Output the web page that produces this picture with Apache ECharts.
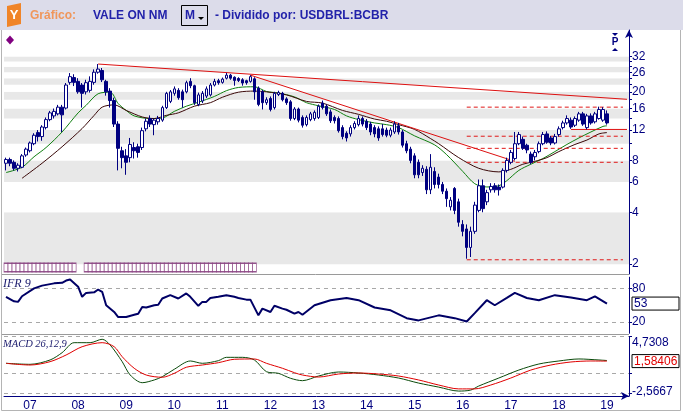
<!DOCTYPE html>
<html><head><meta charset="utf-8">
<script src="https://cdn.jsdelivr.net/npm/echarts@6/dist/echarts.min.js"></script>
<style>html,body{margin:0;padding:0;background:#fff}#c{width:683px;height:413px}</style>
</head><body><div id="c"></div><script>
// ---------------- DATA ----------------
const startYear = 2006, startMonth = 7, monthCount = 156; // monthly candles Jul 2006 .. Jan 2019 (+ empty space)
const opens = [7.7,8.1,7.8,7.2,7.3,8.6,9.1,10.0,11.6,11.0, 12.4,13.8,14.5,14.9,16.3,16.1,22.7,24.2,23.0,21.9, 20.0,20.4,22.7,26.0,26.6,23.0,20.2,17.8,13.0,9.1, 8.5,8.3,9.5,9.6,9.5,12.2,14.0,12.9,13.4,13.7, 16.2,17.6,19.6,20.4,20.0,20.0,23.0,21.7,16.9,17.7, 18.9,19.2,21.9,23.2,22.7,24.0,25.0,24.3,23.9,23.5, 23.2,23.0,23.8,21.0,20.0,17.3,18.3,16.2,19.3,19.6, 18.2,17.5,14.0,15.9,14.2,12.9,13.8,14.0,14.2,17.2, 16.5,15.3,14.2,14.0,12.4,11.5,11.4,12.4,12.9,14.0, 13.5,13.0,12.4,12.2,12.2,12.0,11.2,11.7,12.7,11.7, 10.0,9.3,8.5,7.8,6.8,7.1,5.4,6.9,6.4,5.8, 5.3,4.3,5.5,4.6,3.4,3.2,2.5,3.1,4.1,5.7, 4.6,5.4,5.7,5.6,5.6,7.0,7.8,8.2,10.0,10.6, 9.8,8.7,8.4,9.0,10.0,11.4,10.8,10.1,11.3,12.4, 13.2,13.7,12.8,13.7,14.9,12.4,14.5,13.4,14.0,13.7, 14.9];
const highs = [8.3,8.3,8.0,7.7,8.7,9.5,10.3,11.5,12.0,12.8, 14.2,15.5,16.0,16.8,16.8,22.5,25.7,25.3,24.0,22.5, 23.5,24.6,27.0,29.0,27.5,23.5,21.0,18.5,13.5,9.6, 9.3,10.8,10.2,10.0,12.4,14.0,14.6,14.0,14.5,16.6, 20.0,20.5,21.5,21.0,20.6,23.2,24.0,22.0,19.8,20.2, 21.5,22.5,23.8,23.8,24.2,25.8,25.4,24.6,24.3,24.0, 23.5,25.0,24.3,21.5,20.5,18.6,18.8,20.0,20.3,20.0, 18.6,17.9,16.3,16.2,14.6,14.6,15.3,15.6,16.9,17.8, 16.9,15.8,14.6,14.4,12.8,11.8,12.8,13.5,14.6,14.4, 13.9,13.4,12.8,12.6,13.0,12.4,12.4,13.5,13.2,12.0, 10.4,9.6,8.8,8.1,7.5,7.4,8.7,7.3,6.7,6.0, 5.5,4.9,5.6,4.8,3.6,3.4,3.3,4.6,6.2,6.2, 5.4,5.9,5.9,5.8,7.2,8.3,9.2,11.7,11.7,11.0, 10.0,9.0,9.2,10.3,11.7,11.8,11.1,11.4,12.6,13.6, 14.6,14.2,14.4,15.3,15.3,14.9,15.0,15.3,16.4,16.3, 15.6];
const lows = [7.0,7.4,7.0,6.9,7.2,8.4,8.9,9.8,10.3,10.4, 12.1,13.5,14.0,14.6,11.7,15.8,22.0,21.6,19.5,16.2, 19.3,19.8,22.0,25.5,22.8,19.0,16.2,12.5,7.0,7.2, 6.6,7.8,8.2,8.3,9.2,11.8,12.5,11.2,12.9,13.4, 15.9,17.2,19.0,18.0,16.2,19.6,21.0,16.8,16.5,17.2, 18.4,18.8,21.5,22.0,22.3,23.6,23.5,21.7,22.8,21.7, 22.0,22.6,18.0,16.5,15.8,16.8,15.4,15.8,18.9,17.6, 16.8,13.6,13.7,13.3,12.4,12.6,13.5,13.6,13.9,15.8, 14.5,13.2,13.1,11.6,10.6,10.3,11.0,12.1,12.6,12.6, 12.0,11.2,10.9,10.4,11.0,10.9,10.9,11.4,11.3,9.5, 8.8,7.7,6.3,6.3,6.5,5.1,5.1,5.5,5.5,5.1, 4.3,4.1,3.9,3.3,2.9,2.15,2.2,3.0,4.0,4.0, 4.4,5.2,5.2,5.0,5.5,6.8,7.6,8.0,9.8,9.2, 8.8,7.6,8.0,8.8,9.8,10.0,9.8,9.9,11.0,12.1, 12.9,12.2,12.5,13.4,12.7,12.1,12.9,13.1,13.8,13.4, 12.9];
const closes = [8.1,7.7,7.2,7.5,8.5,9.3,10.1,11.2,11.0,12.5, 13.8,15.1,15.4,16.3,14.7,21.9,24.5,22.7,20.0,19.6, 22.6,23.0,26.0,27.1,23.5,20.0,17.8,13.0,9.4,8.3, 7.8,9.9,9.1,8.9,11.9,13.5,13.0,13.7,14.0,16.2, 19.6,20.0,20.8,18.5,18.0,22.6,21.7,17.3,19.2,19.6, 20.8,21.9,23.0,22.6,23.7,25.0,24.0,23.3,23.3,22.5, 22.6,24.5,20.0,16.9,17.3,18.0,15.8,19.6,19.8,18.0, 17.3,14.0,15.9,13.7,12.8,14.2,14.9,15.2,16.5,16.2, 14.9,13.6,13.6,11.9,11.0,10.8,12.4,13.1,14.0,13.0, 12.4,11.7,11.4,10.8,11.3,11.2,12.0,13.0,11.7,9.8, 9.1,8.0,6.6,6.6,7.2,5.4,7.3,5.8,5.8,5.3, 4.8,4.7,4.1,3.5,3.1,2.5,3.1,4.4,5.7,4.2, 5.2,5.65,5.4,5.4,7.0,8.0,8.9,10.0,11.3,9.4, 9.2,7.8,8.9,10.0,11.3,10.2,10.1,11.0,12.2,13.2, 14.0,12.5,14.0,14.9,13.0,14.5,13.2,14.9,15.8,15.8, 13.2];

// moving averages (month index -> value)
const maFastIdx = [0,4,7,10,14,18,20,23,26,28,30,32,36,39,42,45,48,52,55,58,62,65,68,72,75,78,82,85,88,92,95,98,102,107,110,114,117,120,123,125,128,131,134,137,140,143,146,149,150];
const maFastVal = [6.8,7.3,8.4,9.5,11.7,15.1,16.7,19.5,19.9,17.1,15.6,14.5,14.0,14.1,15.4,16.5,17.4,18.8,20.3,21.2,21.4,20.1,19.7,18.7,17.3,16.6,15.8,14.5,13.8,13.2,12.9,12.4,11.1,9.84,8.63,6.91,5.86,5.61,5.7,6.1,7.0,7.6,8.2,9.0,9.9,10.8,11.7,12.6,12.7];
const maSlowIdx = [4,9,14,19,22,24,27,30,34,37,40,43,47,51,54,58,62,65,70,75,79,84,88,92,95,98,102,106,108,113,118,123,126,129,132,135,138,142,145,148,150];
const maSlowVal = [6.3,7.7,9.6,12.25,14.6,16.3,16.8,15.6,14.3,14.0,14.6,15.1,16.5,17.3,18.6,19.9,20.2,20.0,19.2,17.6,17.2,15.6,14.8,13.9,13.5,12.9,12.1,10.7,10.0,8.3,7.2,6.86,7.1,7.6,7.9,8.3,9.0,9.9,10.5,11.4,11.6];

// drawn lines (month index, value)
const trendA = [[23, 29.0], [155, 18.1]];
const trendB = [[61, 25.0], [127, 7.9]];
const supportLine = [[141, 12.1], [155, 12.1]];
const fibLevels = [16.3, 11.05, 9.4, 7.8, 2.12];
const fibStart = 115, fibEnd = 154;

// event markers (month index ranges)
const eventRanges = [[0, 17], [20, 38], [39, 62]];

// IFR 9
const rsiIdx = [0,2,3,4,7,9,12,14,15,16,18,19,20,22,23,24,25,27,28,30,32,33,34,35,37,38,39,41,43,45,46,48,49,50,51,53,55,57,58,60,61,63,64,66,67,69,70,72,73,74,77,81,85,88,92,96,100,103,108,112,115,117,120,122,125,127,130,133,137,141,145,147,150];
const rsiVal = [65,57,56,66,80,85,89,90,94,96,83,65,72,73,78,74,50,38,29,29,33,35,47,46,50,51,62,68,62,71,65,49,56,56,63,65,68,65,63,60,60,32,44,38,49,44,42,35,38,33,50,59,63,59,46,41,27,23,32,27,21,36,59,50,63,72,63,59,68,64,59,66,53];
const rsiLevels = [20, 80];

// MACD 26,12,9
const macdIdx = [0,6,11,14,17,21,24,26,29,31,34,37,39,42,46,49,53,55,59,62,65,68,71,74,78,83,88,93,98,103,108,113,116,118,123,128,133,138,143,148,150];
const macdVal = [1.30,1.17,1.73,2.67,3.96,3.96,4.40,3.66,1.51,-0.21,-1.20,-0.85,-0.43,0.53,1.60,1.30,1.64,2.07,2.07,1.73,0.22,0.01,-0.63,-0.94,-0.34,0.18,0.05,-0.21,-0.60,-1.25,-1.77,-2.28,-2.15,-1.63,-0.60,0.43,1.21,1.60,1.86,1.73,1.66];
const sigIdx = [0,6,11,15,19,24,27,29,32,35,39,42,45,49,53,57,62,65,69,72,74,78,83,88,93,98,103,108,113,117,121,126,131,136,141,146,150];
const sigVal = [1.30,1.08,1.51,2.37,3.44,3.96,3.44,2.15,0.66,-0.21,-0.50,0.01,0.79,1.08,1.38,1.82,1.86,1.30,0.66,0.09,-0.21,-0.47,-0.08,0.05,-0.08,-0.34,-0.85,-1.50,-2.00,-2.00,-1.50,-0.60,0.43,1.08,1.47,1.60,1.58406];
const macdMax = 4.7308, macdMin = -2.5667;

// axis tick labels
const priceLabels = [2,4,6,8,12,16,20,26,32];
const priceStripes = [2,4,6,8,10,12,14,16,18,20,22,24,26,28,30,32];
const priceMin = 1.753, priceMax = 45.7;

// ---------------- BUILD ----------------
const categories = [];
for (let k = 0; k < monthCount; k++) {
  const m = startMonth - 1 + k;
  const y = startYear + Math.floor(m / 12);
  categories.push(y + '-' + String(m % 12 + 1).padStart(2, '0'));
}
const candleData = opens.map((o, i) => [o, closes[i], lows[i], highs[i]]);
const pairs = (idx, val) => idx.map((k, j) => [categories[k], val[j]]);
const ptList = arr => arr.map(p => [categories[p[0]], p[1]]);
const eventData = [];
eventRanges.forEach(r => { for (let k = r[0]; k <= r[1]; k++) eventData.push([categories[k], 0.5]); });

const navy = '#000080';
const FONT = 'Liberation Sans, Arial, sans-serif';
const fmtComma = v => String(v).replace('.', ',');
const rsiLast = rsiVal[rsiVal.length - 1];
const sigLast = sigVal[sigVal.length - 1];
const near = (a, b) => Math.abs(a - b) < 1e-6;

const gridLeft = 4, gridWidth = 625;
const grids = [
  {left: gridLeft, width: gridWidth, top: 30, height: 244},
  {left: gridLeft, width: gridWidth, top: 277.2, height: 56.1},
  {left: gridLeft, width: gridWidth, top: 336.7, height: 59.3},
  {left: gridLeft, width: gridWidth, top: 262.5, height: 10}
];
const xAxes = [0, 1, 2, 3].map(g => {
  const base = {type: 'category', gridIndex: g, data: categories, boundaryGap: true};
  if (g !== 2) return Object.assign(base, {show: false});
  return Object.assign(base, {
    position: 'bottom',
    axisLine: {show: true, onZero: false, lineStyle: {color: navy, width: 1}, symbol: ['none', 'arrow'], symbolSize: [6, 8]},
    axisTick: {show: false},
    axisLabel: {
      interval: (i, v) => v.endsWith('-01') && i <= 150,
      formatter: v => v.slice(2, 4), color: navy, fontSize: 12, fontFamily: FONT, margin: 4
    }
  });
});

const rightAxisCommon = {
  position: 'right',
  axisLine: {show: true, lineStyle: {color: navy, width: 1}},
  axisTick: {show: true, length: 3, lineStyle: {color: navy}},
};

const yAxes = [
  // hidden log axis carrying the prices
  {type: 'log', logBase: 2, gridIndex: 0, min: priceMin, max: priceMax, show: false, position: 'left'},
  // label axis in log2 space (same mapping)
  Object.assign({}, rightAxisCommon, {
    type: 'value', gridIndex: 0, min: Math.log2(priceMin), max: Math.log2(priceMax),
    axisLine: {show: true, lineStyle: {color: navy, width: 1}, symbol: ['none', 'arrow'], symbolSize: [6, 8]},
    axisTick: {show: true, length: 3, lineStyle: {color: navy}, customValues: priceStripes.map(Math.log2)},
    axisLabel: {customValues: priceLabels.map(Math.log2), formatter: v => String(Math.round(Math.pow(2, v))),
      color: navy, fontSize: 12, fontFamily: FONT, margin: 3},
    splitLine: {show: false},
    splitArea: {show: true, areaStyle: {color: ['#e8e8e8', '#ffffff']}}
  }),
  // IFR
  Object.assign({}, rightAxisCommon, {
    type: 'value', gridIndex: 1, min: 0, max: 100,
    axisTick: {show: true, length: 3, lineStyle: {color: navy}, customValues: rsiLevels},
    splitLine: {show: true, lineStyle: {color: '#a8a8a8', type: [4, 4], width: 1}},
    axisLabel: {customValues: [rsiLevels[1], rsiLast, rsiLevels[0]], color: navy, fontSize: 12, fontFamily: FONT, margin: 3,
      formatter: v => near(v, rsiLast) && !rsiLevels.some(l => near(l, v)) ? '{box|' + Math.round(v) + '}' : String(v),
      rich: {box: {borderColor: '#000', borderWidth: 1, width: 43, padding: [1, 2, 0, 2], color: navy, fontSize: 12, fontFamily: FONT}}
    }
  }),
  // MACD
  Object.assign({}, rightAxisCommon, {
    type: 'value', gridIndex: 2, min: -2.915, max: macdMax,
    axisTick: {show: true, length: 3, lineStyle: {color: navy}, customValues: [macdMin, 0, macdMax]},
    splitLine: {show: true, lineStyle: {color: '#a8a8a8', type: [4, 4], width: 1}},
    axisLabel: {customValues: [macdMax, sigLast, macdMin], color: navy, fontSize: 12, fontFamily: FONT, margin: 3,
      formatter: v => {
        if (near(v, macdMax)) return '{top|' + fmtComma(macdMax) + '}';
        if (near(v, macdMin)) return '{bot|' + fmtComma(macdMin) + '}';
        return '{box|' + fmtComma(sigLast) + '}';
      },
      rich: {
        top: {padding: [12, 0, 0, 0], color: navy, fontSize: 12, fontFamily: FONT},
        bot: {padding: [0, 0, 4, 0], color: navy, fontSize: 12, fontFamily: FONT},
        box: {borderColor: '#000', borderWidth: 1, width: 43, padding: [1, 2, 0, 2], color: '#e00000', fontSize: 12, fontFamily: FONT}
      }
    }
  }),
  {type: 'value', gridIndex: 3, min: 0, max: 1, show: false}
];

const lineS = (data, color, extra) => Object.assign({
  type: 'line', xAxisIndex: 0, yAxisIndex: 0, data, showSymbol: false, symbol: 'none',
  lineStyle: {color, width: 1}, silent: true, z: 3
}, extra || {});

const series = [
  {
    type: 'candlestick', xAxisIndex: 0, yAxisIndex: 0, data: candleData, barWidth: 3,
    itemStyle: {color: '#ffffff', color0: navy, borderColor: navy, borderColor0: navy, borderWidth: 1}, z: 4
  },
  lineS(pairs(maFastIdx, maFastVal), '#108010', {smooth: 0.3}),
  lineS(pairs(maSlowIdx, maSlowVal), '#3a0808', {smooth: 0.3}),
  lineS(ptList(trendA), '#dd1010'),
  lineS(ptList(trendB), '#dd1010'),
  lineS(ptList(supportLine), '#dd1010'),
  ...fibLevels.map(l => lineS([[categories[fibStart], l], [categories[fibEnd], l]], '#e01818', {lineStyle: {color: '#e01818', width: 1, type: [4, 3]}})),
  {
    type: 'scatter', xAxisIndex: 3, yAxisIndex: 4, data: eventData, symbol: 'rect', symbolSize: [4, 8.5],
    itemStyle: {color: '#ffffff', borderColor: '#7a2a72', borderWidth: 1}, silent: true
  },
  {type: 'line', xAxisIndex: 1, yAxisIndex: 2, data: pairs(rsiIdx, rsiVal), showSymbol: false, symbol: 'none',
    lineStyle: {color: '#000066', width: 2}, silent: true},
  {type: 'line', xAxisIndex: 2, yAxisIndex: 3, data: pairs(macdIdx, macdVal), showSymbol: false, symbol: 'none', smooth: 0.3,
    lineStyle: {color: '#0a4a0a', width: 1}, silent: true},
  {type: 'line', xAxisIndex: 2, yAxisIndex: 3, data: pairs(sigIdx, sigVal), showSymbol: false, symbol: 'none', smooth: 0.3,
    lineStyle: {color: '#e00000', width: 1}, silent: true}
];

const hdrBlue = '#2222aa';
const graphic = [
  {type: 'rect', shape: {x: 0, y: 0, width: 683, height: 30}, style: {fill: '#dcdcea'}, z: -10},
  {type: 'polygon', shape: {points: [[7, 6], [21, 3], [21, 24], [7, 27]]}, style: {fill: '#f08428'}},
  {type: 'text', x: 14, y: 15, style: {text: 'Y', fill: '#ffffff', font: 'bold 13px ' + FONT, align: 'center', verticalAlign: 'middle'}},
  {type: 'text', x: 30, y: 16, style: {text: 'Gráfico:', fill: '#f0965a', font: 'bold 12px ' + FONT, verticalAlign: 'middle'}},
  {type: 'text', x: 93, y: 16, style: {text: 'VALE ON NM', fill: hdrBlue, font: 'bold 12px ' + FONT, verticalAlign: 'middle'}},
  {type: 'rect', shape: {x: 181.5, y: 5.5, width: 26, height: 20}, style: {fill: 'none', stroke: '#000', lineWidth: 1}},
  {type: 'text', x: 185, y: 16, style: {text: 'M', fill: hdrBlue, font: 'bold 12px ' + FONT, verticalAlign: 'middle'}},
  {type: 'polygon', shape: {points: [[198, 17], [204, 17], [201, 20]]}, style: {fill: '#000'}},
  {type: 'text', x: 215, y: 16, style: {text: '- Dividido por: USDBRL:BCBR', fill: hdrBlue, font: 'bold 12px ' + FONT, verticalAlign: 'middle'}},
  {type: 'polygon', shape: {points: [[10, 35.5], [14, 40], [10, 44.5], [6, 40]]}, style: {fill: '#800080'}},
  {type: 'polygon', shape: {points: [[612, 33], [618, 33], [615, 36]]}, style: {fill: navy}},
  {type: 'text', x: 615, y: 42.5, style: {text: 'P', fill: navy, font: 'bold 10px ' + FONT, align: 'center', verticalAlign: 'middle'}},
  {type: 'polygon', shape: {points: [[612, 51], [618, 51], [615, 48]]}, style: {fill: navy}},
  {type: 'polyline', shape: {points: [[1.5, 30], [1.5, 410.5], [680.5, 410.5], [680.5, 30]]}, style: {stroke: '#b4b4b4', lineWidth: 1, fill: 'none'}},
  {type: 'line', shape: {x1: 2, y1: 274.5, x2: 629, y2: 274.5}, style: {stroke: '#9a9a9a', lineWidth: 1}, z: 10},
  {type: 'line', shape: {x1: 2, y1: 334.5, x2: 629, y2: 334.5}, style: {stroke: '#9a9a9a', lineWidth: 1}, z: 10},
  {type: 'text', x: 3, y: 284, style: {text: 'IFR 9', fill: '#202070', font: 'italic 12px Liberation Serif, serif', verticalAlign: 'middle'}, z: 10},
  {type: 'text', x: 3, y: 344, style: {text: 'MACD 26,12,9', fill: '#202070', font: 'italic 10.5px Liberation Serif, serif', verticalAlign: 'middle'}, z: 10}
];

const chart = echarts.init(document.getElementById('c'), null, {renderer: 'canvas'});
chart.setOption({
  animation: false, backgroundColor: '#ffffff',
  grid: grids, xAxis: xAxes, yAxis: yAxes, series, graphic
});
</script></body></html>
